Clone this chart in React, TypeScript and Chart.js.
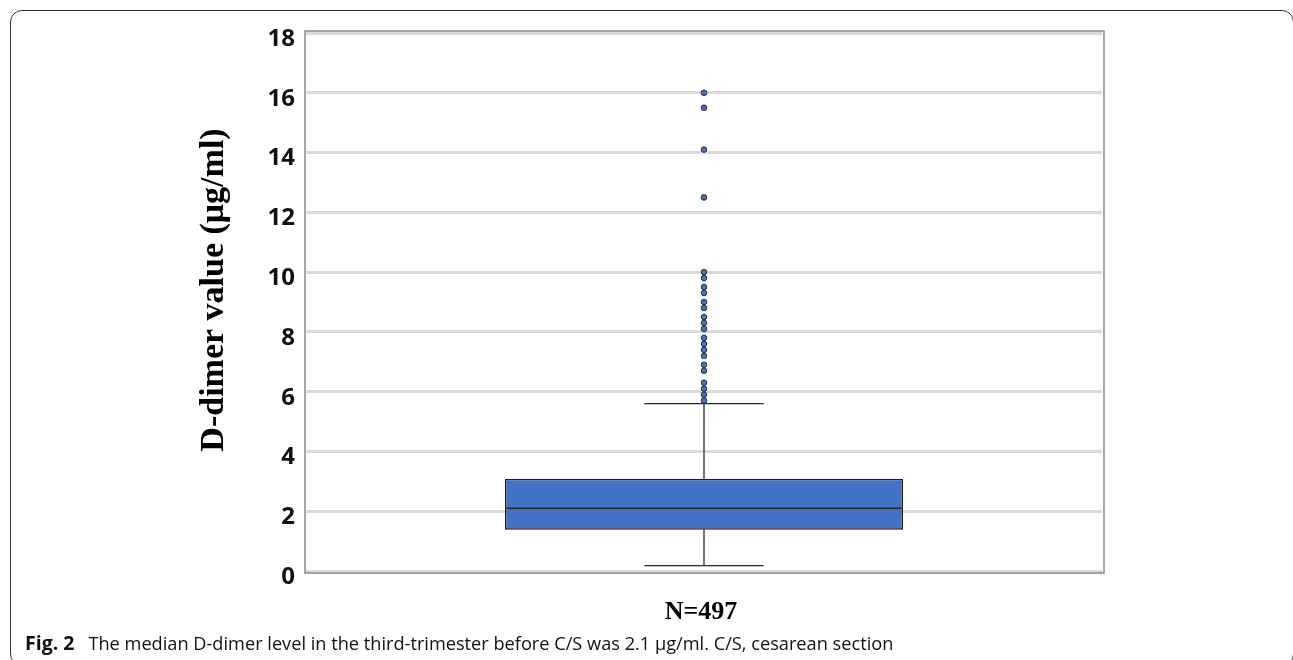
import React, { useEffect, useRef } from "react";
import { Chart, registerables } from "chart.js";

Chart.register(...registerables);

// ---- data ----
const categories = ["D-dimer"];
const q1Values = [1.38];
const q3Values = [3.09];
const medianValues = [2.1];
const whiskerLow = [0.18];
const whiskerHigh = [5.6];
const outlierValues = [
  16.0, 15.5, 14.1, 12.5, 10.0, 9.8, 9.5, 9.3, 9.0, 8.8, 8.5, 8.3, 8.1, 7.8,
  7.6, 7.4, 7.2, 6.9, 6.7, 6.3, 6.1, 5.9, 5.7,
];
const yMin = 0;
const yMax = 18;
const yStep = 2;
const yTitle = "D-dimer value (\u03BCg/ml)";
const xTitle = "N=497";

const BOX_FILL = "#4472C4";
const LINE_DARK = "#1e1e1e";

const boxExtras = {
  id: "boxExtras",
  afterDatasetDraw(chart: any, args: any) {
    if (args.index !== 0) return;
    const meta = chart.getDatasetMeta(0);
    const ys = chart.scales.y;
    const ctx = chart.ctx;
    ctx.save();
    ctx.strokeStyle = "#2a2a2a";
    ctx.lineWidth = 1.3;
    meta.data.forEach((bar: any, i: number) => {
      const { x, width } = bar.getProps(["x", "width"], true);
      const half = width / 2;
      const cap = width * 0.15;
      const yMed = ys.getPixelForValue(medianValues[i]);
      const yQ1 = ys.getPixelForValue(q1Values[i]);
      const yQ3 = ys.getPixelForValue(q3Values[i]);
      const yLo = ys.getPixelForValue(whiskerLow[i]);
      const yHi = ys.getPixelForValue(whiskerHigh[i]);
      ctx.beginPath();
      ctx.moveTo(x - half, yMed);
      ctx.lineTo(x + half, yMed);
      ctx.moveTo(x, yQ3);
      ctx.lineTo(x, yHi);
      ctx.moveTo(x - cap, yHi);
      ctx.lineTo(x + cap, yHi);
      ctx.moveTo(x, yQ1);
      ctx.lineTo(x, yLo);
      ctx.moveTo(x - cap, yLo);
      ctx.lineTo(x + cap, yLo);
      ctx.stroke();
    });
    ctx.restore();
  },
  afterDraw(chart: any) {
    const { ctx, chartArea } = chart;
    ctx.save();
    // plot frame
    ctx.strokeStyle = "#8a8a8a";
    ctx.lineWidth = 1.5;
    ctx.strokeRect(
      chartArea.left - 1,
      chartArea.top - 2,
      chartArea.right - chartArea.left + 3,
      chartArea.bottom - chartArea.top + 4
    );
    // y title
    ctx.fillStyle = "#000";
    ctx.font = 'bold 34px "Liberation Serif"';
    ctx.textAlign = "center";
    ctx.textBaseline = "alphabetic";
    ctx.translate(223, (chartArea.top + chartArea.bottom) / 2 - 12);
    ctx.rotate(-Math.PI / 2);
    ctx.fillText(yTitle, 0, 0);
    ctx.restore();
    // x title
    ctx.save();
    ctx.fillStyle = "#000";
    ctx.font = 'bold 26px "Liberation Serif"';
    ctx.textAlign = "center";
    ctx.textBaseline = "alphabetic";
    ctx.fillText(xTitle, (chartArea.left + chartArea.right) / 2 - 3, 619);
    ctx.restore();
  },
};

export default function App() {
  const canvasRef = useRef<HTMLCanvasElement | null>(null);

  useEffect(() => {
    if (!canvasRef.current) return;
    const chart = new Chart(canvasRef.current, {
      type: "bar",
      data: {
        labels: categories,
        datasets: [
          {
            type: "bar",
            label: "box",
            data: categories.map((_, i) => [q1Values[i], q3Values[i]]) as any,
            backgroundColor: BOX_FILL,
            borderColor: LINE_DARK,
            borderWidth: 1.5,
            borderSkipped: false,
            barPercentage: 0.5,
            categoryPercentage: 1,
            order: 1,
          } as any,
          {
            type: "line",
            label: "outliers",
            data: outlierValues.map((v) => ({ x: categories[0], y: v })),
            showLine: false,
            pointRadius: 2.8,
            pointBackgroundColor: BOX_FILL,
            pointBorderColor: "#2a2a2a",
            pointBorderWidth: 1,
            order: 0,
          } as any,
        ],
      },
      options: {
        animation: false,
        responsive: true,
        maintainAspectRatio: false,
        layout: { padding: { left: 0, top: 33, right: 191, bottom: 89 } },
        plugins: {
          legend: { display: false },
          tooltip: { enabled: false },
          title: { display: false },
        },
        scales: {
          x: { display: false },
          y: {
            min: yMin,
            max: yMax,
            afterFit: (scale: any) => {
              scale.width = 306;
            },
            ticks: {
              stepSize: yStep,
              padding: 11,
              labelOffset: 6,
              color: "#111",
              font: { family: '"Open Sans"', size: 24, weight: "bold" as any },
            },
            grid: {
              color: "#d9d9d9",
              lineWidth: 3,
              drawTicks: false,
            },
            border: { display: false },
          },
        },
      },
      plugins: [boxExtras],
    });
    return () => chart.destroy();
  }, []);

  return (
    <div
      style={{
        position: "fixed",
        left: 0,
        top: 0,
        width: 1293,
        height: 660,
        overflow: "hidden",
        background: "#fff",
      }}
    >
      <div
        style={{
          position: "absolute",
          left: 10,
          top: 10,
          width: 1284,
          height: 656,
          boxSizing: "border-box",
          border: "1.5px solid #333",
          borderRadius: 12,
        }}
      />
      <div style={{ position: "absolute", left: 0, top: 0, width: 1293, height: 660 }}>
        <canvas ref={canvasRef} />
      </div>
      <div
        style={{
          position: "absolute",
          left: 25,
          top: 629,
          fontFamily: '"Open Sans"',
          fontSize: 18.2,
          color: "#111",
          whiteSpace: "nowrap",
        }}
      >
        <b style={{ marginRight: 14, fontSize: 19.5 }}>Fig. 2</b>
        The median D-dimer level in the third-trimester before C/S was 2.1 {"\u03BC"}g/ml. C/S, cesarean section
      </div>
    </div>
  );
}
